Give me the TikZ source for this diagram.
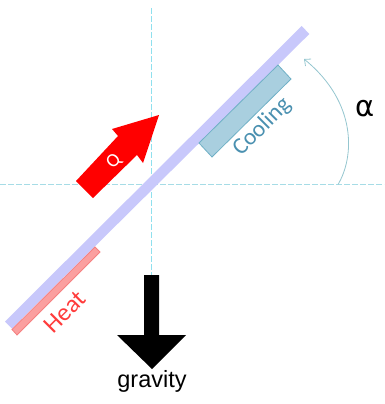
\documentclass[tikz,border=0pt]{standalone}
\usepackage{fontspec}
\setmainfont{Carlito}
\newfontfamily\arialf{Liberation Sans}
\newfontfamily\greekf{DejaVu Sans}
\usetikzlibrary{arrows.meta}
\definecolor{guide}{HTML}{A6DCE6}
\definecolor{guidev}{HTML}{8FE0EE}
\definecolor{plate}{HTML}{C8C8FB}
\definecolor{coolfill}{HTML}{A9CFDF}
\definecolor{coolline}{HTML}{6FB0C6}
\definecolor{cooltext}{HTML}{4A90B0}
\definecolor{heatfill}{HTML}{FB9F9F}
\definecolor{heatline}{HTML}{F58080}
\definecolor{heattext}{HTML}{FF3B3B}
\tikzset{
  guideline/.style={line width=1.1pt,dash pattern=on 6pt off 2pt},
  label45/.style={rotate=45,inner sep=0pt,anchor=center},
}
\begin{document}
\begin{tikzpicture}[x=1pt,y=-1pt]
\useasboundingbox (0,0) rectangle (384,404);
\coordinate (hl) at (0,184.5);
\coordinate (hr) at (384,184.5);
\coordinate (vt) at (151.2,8);
\coordinate (vb) at (151.2,276);
\draw[guideline,draw=guide] (hl) -- (hr);
\draw[guideline,draw=guidev,line width=1.4pt] (vt) -- (vb);
% plate
\fill[plate] (301.7,26) -- (309.3,34) -- (12,328.5) -- (5,321.5) -- cycle;
% cooling
\draw[fill=coolfill,draw=coolline,line width=0.8pt] (278,65) -- (291,79) -- (212,157) -- (199,143) -- cycle;
% heat
\draw[fill=heatfill,draw=heatline,line width=0.8pt] (95,247) -- (100,252) -- (17,335) -- (12,329.5) -- cycle;
% Q arrow
\fill[red] (159,115) -- (112,129) -- (118,136) -- (76,181) -- (93,198) -- (137,155) -- (143,163) -- cycle;
% gravity arrow
\fill[black] (144,275) -- (159,275) -- (159,335) -- (186,335) -- (152,369) -- (117,335) -- (144,335) -- cycle;
% angle arc
\coordinate (as) at (338,184.5);
\coordinate (ae) at (304,59);
\draw[guide!90!black,line width=0.8pt,-{Straight Barb[length=5pt,width=9pt]}] (as) .. controls (354,158) and (358,103) .. (ae);
% labels
\node[label45,text=white,font=\fontsize{19}{19}\selectfont] (q) at (114,162) {Q};
\node[label45,text=cooltext,font=\fontsize{23.5}{23.5}\selectfont] (cool) at (262,127) {Cooling};
\node[label45,text=heattext,font=\fontsize{25}{25}\selectfont] (heat) at (65,312) {Heat};
\node[inner sep=0pt,font=\greekf\fontsize{29}{29}\selectfont] (alpha) at (365,109) {α};
\node[inner sep=0pt,font=\arialf\fontsize{23.5}{23.5}\selectfont] (grav) at (152,381) {gravity};
\end{tikzpicture}
\end{document}
